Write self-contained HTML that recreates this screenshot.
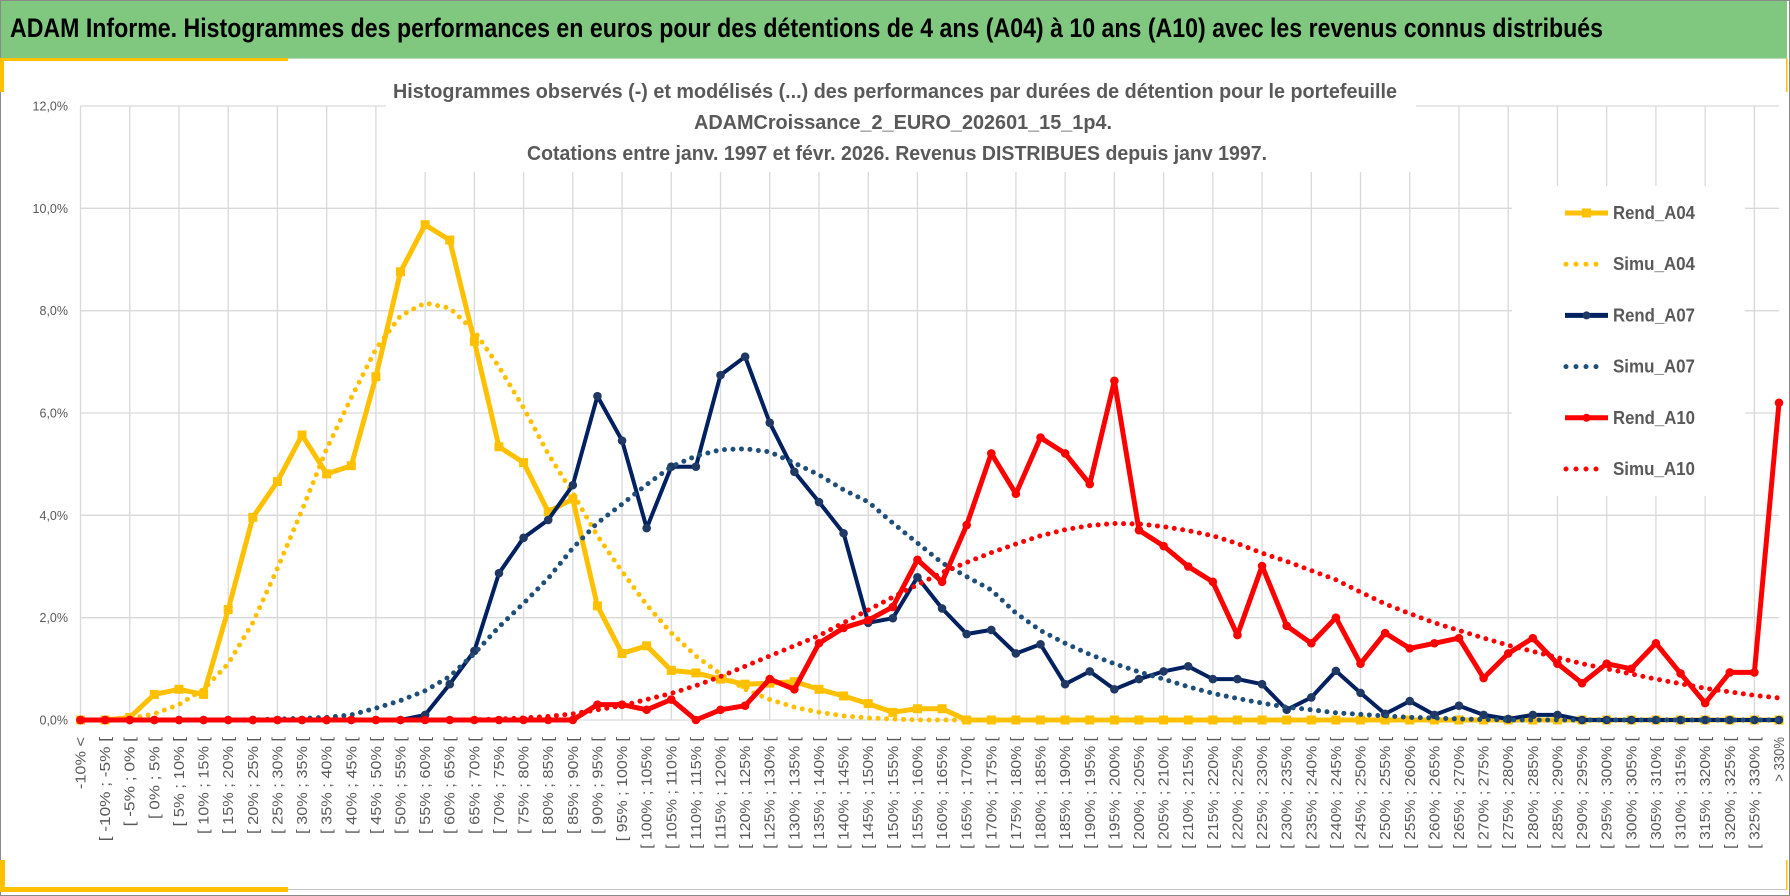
<!DOCTYPE html>
<html><head><meta charset="utf-8">
<style>
html,body{margin:0;padding:0;background:#fff;}
#wrap{position:relative;width:1790px;height:896px;overflow:hidden;}
svg{display:block;}
</style></head>
<body>
<div id="wrap">
<svg id="chart" width="1790" height="896" viewBox="0 0 1790 896">
  <rect x="0" y="0" width="1790" height="896" fill="#ffffff"/>
  <rect x="0.5" y="0.5" width="1789" height="895" fill="none" stroke="#8a8a8a"/>
  <rect x="1" y="1" width="1786" height="57" fill="#80c880"/>
  <line x1="1" y1="58.5" x2="1787" y2="58.5" stroke="#b9d9b9"/>
  <text x="10" y="37" font-family="'Liberation Sans Narrow','Liberation Sans',sans-serif" font-weight="bold" font-size="27" fill="#000" textLength="1593" lengthAdjust="spacingAndGlyphs">ADAM Informe. Histogrammes des performances en euros pour des détentions de 4 ans (A04) à 10 ans (A10) avec les revenus connus distribués</text>
  <rect x="0" y="58" width="288" height="3" fill="#ffc000"/>
  <rect x="0" y="58" width="4" height="34" fill="#ffc000"/>
  <rect x="0" y="887" width="288" height="5" fill="#ffc000"/>
  <rect x="0" y="860" width="5" height="32" fill="#ffc000"/>
  <line x1="288" y1="889.5" x2="1787" y2="889.5" stroke="#c8c8c8"/>
  <rect x="1786" y="58" width="1.5" height="34" fill="#ffc000"/>
  <rect x="1786" y="860" width="1.5" height="30" fill="#ffc000"/>
  <g id="grid"></g>
  <g id="yaxis"></g>
  <g id="xaxis"></g>
  <g id="series"></g>
  <rect x="386" y="66" width="1030" height="106" fill="#fff"/>
  <g font-family="'Liberation Sans Narrow','Liberation Sans',sans-serif" font-weight="bold" font-size="20" fill="#595959">
    <text x="393" y="98" textLength="1004" lengthAdjust="spacingAndGlyphs">Histogrammes observés (-) et modélisés (...) des performances par durées de détention pour le portefeuille</text>
    <text x="694" y="129" textLength="418" lengthAdjust="spacingAndGlyphs">ADAMCroissance_2_EURO_202601_15_1p4.</text>
    <text x="527" y="160" textLength="740" lengthAdjust="spacingAndGlyphs">Cotations entre janv. 1997 et févr. 2026. Revenus DISTRIBUES depuis janv 1997.</text>
  </g>
  <g id="legend"></g>
</svg>
</div>
<script>
const categories = ["-10%  <","[ -10% ; -5% [","[ -5% ; 0% [","[ 0% ; 5% [","[ 5% ; 10% [","[ 10% ; 15% [","[ 15% ; 20% [","[ 20% ; 25% [","[ 25% ; 30% [","[ 30% ; 35% [","[ 35% ; 40% [","[ 40% ; 45% [","[ 45% ; 50% [","[ 50% ; 55% [","[ 55% ; 60% [","[ 60% ; 65% [","[ 65% ; 70% [","[ 70% ; 75% [","[ 75% ; 80% [","[ 80% ; 85% [","[ 85% ; 90% [","[ 90% ; 95% [","[ 95% ; 100% [","[ 100% ; 105% [","[ 105% ; 110% [","[ 110% ; 115% [","[ 115% ; 120% [","[ 120% ; 125% [","[ 125% ; 130% [","[ 130% ; 135% [","[ 135% ; 140% [","[ 140% ; 145% [","[ 145% ; 150% [","[ 150% ; 155% [","[ 155% ; 160% [","[ 160% ; 165% [","[ 165% ; 170% [","[ 170% ; 175% [","[ 175% ; 180% [","[ 180% ; 185% [","[ 185% ; 190% [","[ 190% ; 195% [","[ 195% ; 200% [","[ 200% ; 205% [","[ 205% ; 210% [","[ 210% ; 215% [","[ 215% ; 220% [","[ 220% ; 225% [","[ 225% ; 230% [","[ 230% ; 235% [","[ 235% ; 240% [","[ 240% ; 245% [","[ 245% ; 250% [","[ 250% ; 255% [","[ 255% ; 260% [","[ 260% ; 265% [","[ 265% ; 270% [","[ 270% ; 275% [","[ 275% ; 280% [","[ 280% ; 285% [","[ 285% ; 290% [","[ 290% ; 295% [","[ 295% ; 300% [","[ 300% ; 305% [","[ 305% ; 310% [","[ 310% ; 315% [","[ 315% ; 320% [","[ 320% ; 325% [","[ 325% ; 330% [","> 330%"];
const yTicks = [0,2,4,6,8,10,12];
const yTickLabels = ["0,0%","2,0%","4,0%","6,0%","8,0%","10,0%","12,0%"];
const rendA04 = [0,0,0.05,0.5,0.6,0.5,2.16,3.96,4.66,5.57,4.81,4.97,6.71,8.76,9.68,9.38,7.40,5.34,5.03,4.07,4.32,2.23,1.3,1.45,0.97,0.92,0.8,0.7,0.72,0.75,0.6,0.47,0.32,0.15,0.22,0.22,0,0,0,0,0,0,0,0,0,0,0,0,0,0,0,0,0,0,0,0,0,0,0,0,0,0,0,0,0,0,0,0,0,0];
const simuA04 = [0,0,0.03,0.12,0.3,0.6,1.1,1.9,2.96,4.1,5.3,6.3,7.25,7.9,8.15,8.05,7.6,6.9,6.1,5.2,4.43,3.6,2.9,2.25,1.7,1.25,0.9,0.6,0.4,0.25,0.15,0.08,0.04,0.02,0,0,0,0,0,0,0,0,0,0,0,0,0,0,0,0,0,0,0,0,0,0,0,0,0,0,0,0,0,0,0,0,0,0,0,0];
const rendA07 = [0,0,0,0,0,0,0,0,0,0,0,0,0,0,0.1,0.7,1.35,2.87,3.56,3.91,4.59,6.33,5.46,3.75,4.95,4.95,6.74,7.1,5.81,4.85,4.26,3.65,1.90,1.99,2.79,2.18,1.68,1.76,1.3,1.48,0.7,0.95,0.6,0.8,0.95,1.05,0.8,0.8,0.7,0.2,0.44,0.96,0.53,0.12,0.37,0.1,0.28,0.1,0.02,0.1,0.1,0,0,0,0,0,0,0,0,0];
const simuA07 = [0,0,0,0,0,0,0,0,0.02,0.03,0.05,0.1,0.23,0.38,0.57,0.85,1.3,1.82,2.28,2.77,3.36,3.85,4.22,4.6,4.95,5.16,5.28,5.3,5.24,5.02,4.79,4.5,4.26,3.85,3.46,3.07,2.8,2.54,2.09,1.75,1.5,1.28,1.1,0.94,0.8,0.65,0.52,0.42,0.33,0.25,0.2,0.14,0.11,0.08,0.05,0.04,0.02,0.01,0,0,0,0,0,0,0,0,0,0,0,0];
const rendA10 = [0,0,0,0,0,0,0,0,0,0,0,0,0,0,0,0,0,0,0,0,0,0.3,0.3,0.2,0.4,0.0,0.2,0.28,0.8,0.6,1.5,1.8,1.95,2.21,3.13,2.7,3.81,5.21,4.42,5.52,5.21,4.61,6.63,3.71,3.4,3.0,2.7,1.66,3.01,1.84,1.5,2.0,1.1,1.7,1.4,1.5,1.6,0.82,1.3,1.6,1.1,0.72,1.1,1.0,1.5,0.91,0.33,0.93,0.93,6.2];
const simuA10 = [0,0,0,0,0,0,0,0,0,0,0,0,0,0,0,0,0,0.02,0.04,0.07,0.12,0.2,0.28,0.4,0.52,0.67,0.85,1.05,1.25,1.45,1.65,1.9,2.15,2.4,2.64,2.88,3.08,3.27,3.44,3.6,3.72,3.8,3.84,3.83,3.78,3.7,3.6,3.45,3.26,3.1,2.92,2.74,2.5,2.27,2.08,1.9,1.75,1.6,1.46,1.34,1.22,1.1,1.0,0.9,0.8,0.71,0.62,0.55,0.48,0.43];
const seriesNames = ["Rend_A04","Simu_A04","Rend_A07","Simu_A07","Rend_A10","Simu_A10"];

const NS = "http://www.w3.org/2000/svg";
const X0 = 80.5, X1 = 1779, Y0 = 720, Y12 = 106;
function xPos(i){ return X0 + i * (X1 - X0) / (categories.length - 1); }
function yPos(v){ return Y0 - v * (Y0 - Y12) / 12; }
function mk(tag, attrs, parent){
  const el = document.createElementNS(NS, tag);
  for (const k in attrs) el.setAttribute(k, attrs[k]);
  parent.appendChild(el);
  return el;
}
const grid = document.getElementById('grid');
const yaxis = document.getElementById('yaxis');
const xaxis = document.getElementById('xaxis');
const seriesG = document.getElementById('series');
const legendG = document.getElementById('legend');

yTicks.forEach((t, k) => {
  const ln = mk('line', {x1: X0, x2: X1, y1: yPos(t), y2: yPos(t), stroke: '#d9d9d9', 'stroke-width': 1.3}, grid);
  
  
  const tx = mk('text', {x: 68, y: yPos(t) + 4.5, 'text-anchor': 'end', 'font-family': "'Liberation Sans',sans-serif", 'font-size': 12.5, fill: '#595959'}, yaxis);
  tx.textContent = yTickLabels[k];
  
  
});
categories.forEach((c, i) => {
  if (i % 2 === 0) {
    const ln = mk('line', {x1: xPos(i), x2: xPos(i), y1: Y12, y2: Y0, stroke: '#d9d9d9', 'stroke-width': 1.3}, grid);
    
    
  }
  const x = xPos(i) + 5, y = 737;
  const tx = mk('text', {x: x, y: y, 'text-anchor': 'end', transform: 'rotate(-90 ' + x + ' ' + y + ')', 'font-family': "'Liberation Sans',sans-serif", 'font-size': 15, fill: '#595959', textLength: (c.length * 7.45).toFixed(1), lengthAdjust: 'spacingAndGlyphs'}, xaxis);
  tx.textContent = c;
  
  
});

function pts(arr){ return arr.map((v, i) => xPos(i).toFixed(1) + ',' + yPos(v).toFixed(1)).join(' '); }
function solid(arr, color, w, marker, mcolor, name){
  const g = mk('g', {}, seriesG);
  
  
  const pl = mk('polyline', {points: pts(arr), fill: 'none', stroke: color, 'stroke-width': w, 'stroke-linejoin': 'round'}, g);
  
  
  arr.forEach((v, i) => {
    let m;
    if (marker === 'square') m = mk('rect', {x: xPos(i) - 4.5, y: yPos(v) - 4.5, width: 9, height: 9, fill: mcolor}, g);
    else m = mk('circle', {cx: xPos(i), cy: yPos(v), r: 4.3, fill: mcolor}, g);
    
    
  });
}
function dotted(arr, color, name){
  const pl = mk('polyline', {points: pts(arr), fill: 'none', stroke: color, 'stroke-width': 5, 'stroke-linecap': 'round', 'stroke-dasharray': '0 8.5'}, seriesG);
  
  
}
solid(rendA04, '#ffc000', 5, 'square', '#ffc000', 'rend-a04');
dotted(simuA04, '#ffc000', 'simu-a04');
solid(rendA07, '#002060', 4, 'circle', '#1f3864', 'rend-a07');
dotted(simuA07, '#1f4e79', 'simu-a07');
solid(rendA10, '#ff0000', 5, 'circle', '#ff0000', 'rend-a10');
dotted(simuA10, '#ff0000', 'simu-a10');

const lbg = mk('rect', {x: 1512, y: 186, width: 233, height: 310, fill: '#fff'}, legendG);


const legColors = ['#ffc000','#ffc000','#002060','#1f4e79','#ff0000','#ff0000'];
const legMarkColors = ['#ffc000','#ffc000','#1f3864','#1f4e79','#ff0000','#ff0000'];
seriesNames.forEach((n, k) => {
  const y = 213 + k * 51.2;
  const g = mk('g', {}, legendG);
  
  
  if (k % 2 === 0) {
    mk('line', {x1: 1565, x2: 1608, y1: y, y2: y, stroke: legColors[k], 'stroke-width': 5}, g);
    if (k === 0) mk('rect', {x: 1582, y: y - 4.5, width: 9, height: 9, fill: legMarkColors[k]}, g);
    else mk('circle', {cx: 1586.5, cy: y, r: 4, fill: legMarkColors[k]}, g);
  } else {
    mk('line', {x1: 1566, x2: 1600, y1: y, y2: y, stroke: legColors[k], 'stroke-width': 5, 'stroke-linecap': 'round', 'stroke-dasharray': '0 10'}, g);
  }
  const tx = mk('text', {x: 1613, y: y + 6, 'font-family': "'Liberation Sans Narrow','Liberation Sans',sans-serif", 'font-weight': 'bold', 'font-size': 18, fill: '#595959', textLength: 82, lengthAdjust: 'spacingAndGlyphs'}, g);
  tx.textContent = n;
  
  
});
</script>
</body></html>
